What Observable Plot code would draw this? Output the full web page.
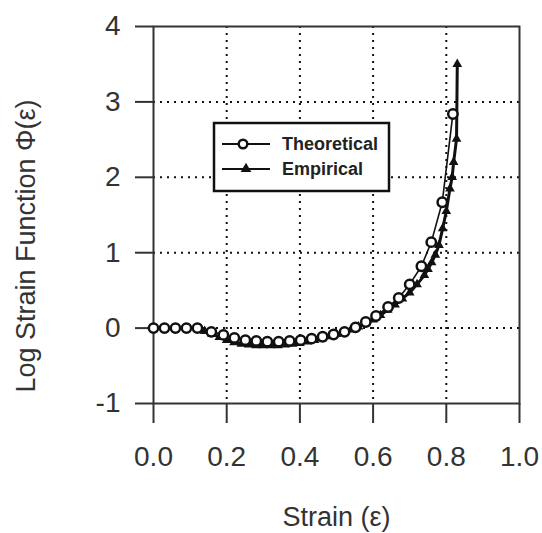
<!DOCTYPE html>
<html>
<head>
<meta charset="utf-8">
<script src="https://cdn.jsdelivr.net/npm/d3@7"></script>
<script src="https://cdn.jsdelivr.net/npm/@observablehq/plot@0.6"></script>
<style>
  html, body { margin: 0; padding: 0; background: white; }
  #chart { position: relative; width: 542px; height: 533px; }
</style>
</head>
<body>
<div id="chart"></div>
<script>
// Theoretical curve (open circles)
const theoX = [0, 0.03, 0.06, 0.09, 0.12, 0.158, 0.191, 0.221, 0.251, 0.281, 0.311, 0.342, 0.372, 0.402, 0.432, 0.462, 0.492, 0.522, 0.552, 0.58, 0.608, 0.641, 0.67, 0.70, 0.732, 0.759, 0.789, 0.818];
const theoY = [0, 0, 0, 0, 0, -0.05, -0.09, -0.13, -0.16, -0.17, -0.18, -0.18, -0.17, -0.16, -0.14, -0.115, -0.085, -0.05, 0.01, 0.08, 0.16, 0.28, 0.40, 0.58, 0.82, 1.14, 1.67, 2.84];

// Empirical curve (filled triangles)
const empX = [0, 0.03, 0.06, 0.09, 0.12, 0.14, 0.16, 0.18, 0.20, 0.22, 0.24, 0.26, 0.28, 0.30, 0.32, 0.34, 0.36, 0.38, 0.40, 0.42, 0.44, 0.46, 0.48, 0.50, 0.52, 0.54, 0.56, 0.58, 0.60, 0.62, 0.64, 0.66, 0.68, 0.70, 0.72, 0.74, 0.75, 0.76, 0.77, 0.78, 0.79, 0.80, 0.81, 0.816, 0.82, 0.828, 0.83];
const empY = [0, 0, 0, 0, -0.01, -0.04, -0.08, -0.12, -0.16, -0.19, -0.21, -0.22, -0.23, -0.23, -0.23, -0.23, -0.22, -0.21, -0.20, -0.18, -0.16, -0.14, -0.11, -0.08, -0.05, -0.02, 0.02, 0.06, 0.11, 0.17, 0.24, 0.31, 0.39, 0.47, 0.58, 0.70, 0.78, 0.87, 0.97, 1.1, 1.32, 1.55, 1.85, 2.0, 2.2, 2.51, 3.5];

const xTicks = [0, 0.2, 0.4, 0.6, 0.8, 1.0];
const yTicks = [-1, 0, 1, 2, 3, 4];
const xGrid = [0.2, 0.4, 0.6, 0.8];
const yGrid = [0, 1, 2, 3];
const xLabel = "Strain (ε)";
const yLabel = "Log Strain Function Φ(ε)";
const seriesNames = ["Theoretical", "Empirical"];

const theo = theoX.map((x, i) => ({x, y: theoY[i]}));
const emp = empX.map((x, i) => ({x, y: empY[i]}));

const textColor = "#333";
const font = "'Liberation Sans', Arial, sans-serif";

const plot = Plot.plot({
  width: 542,
  height: 533,
  marginLeft: 153,
  marginRight: 23,
  marginTop: 26,
  marginBottom: 130,
  style: {fontFamily: font, fontSize: "28px", color: textColor, background: "white"},
  x: {domain: [0, 1]},
  y: {domain: [-1, 4]},
  marks: [
    Plot.gridX(xGrid, {stroke: "#111", strokeOpacity: 1, strokeWidth: 2, strokeDasharray: "2,5"}),
    Plot.gridY(yGrid, {stroke: "#111", strokeOpacity: 1, strokeWidth: 2, strokeDasharray: "2,5"}),
    Plot.frame({stroke: "#333", strokeWidth: 2}),
    Plot.axisX({ticks: xTicks, tickFormat: d => d.toFixed(1), tickSize: 20, tickPadding: 23, stroke: "#333", strokeWidth: 2,
      label: null, fontSize: 28}),
    Plot.axisY({ticks: yTicks, tickFormat: d => String(d), tickSize: 18, tickPadding: 15, stroke: "#333", strokeWidth: 2,
      label: null, fontSize: 28}),
    Plot.text([xLabel], {frameAnchor: "bottom", lineAnchor: "top", dy: 103, fontSize: 27, fill: textColor}),
    Plot.text([yLabel], {frameAnchor: "left", rotate: -90, lineAnchor: "middle", textAnchor: "middle", dx: -127, dy: 31, fontSize: 27, fill: textColor}),
    Plot.line(emp, {x: "x", y: "y", stroke: "#111", strokeWidth: 3}),
    Plot.dot(emp, {x: "x", y: "y", symbol: "triangle", r: 3.6, fill: "#111", stroke: "none"}),
    Plot.line(theo, {x: "x", y: "y", stroke: "#111", strokeWidth: 1.6}),
    Plot.dot(theo, {x: "x", y: "y", symbol: "circle", r: 4.7, fill: "white", stroke: "#111", strokeWidth: 2.5})
  ]
});

document.getElementById("chart").appendChild(plot);

// Legend box drawn inside the SVG
const svg = d3.select(plot);
const lg = svg.append("g").attr("class", "legend");
lg.append("rect").attr("x", 214).attr("y", 123).attr("width", 175).attr("height", 68)
  .attr("fill", "white").attr("stroke", "#111").attr("stroke-width", 2.5);
const rows = [{name: seriesNames[0], y: 144, sym: "circle"}, {name: seriesNames[1], y: 169, sym: "triangle"}];
rows.forEach(r => {
  lg.append("line").attr("x1", 222).attr("x2", 270).attr("y1", r.y).attr("y2", r.y)
    .attr("stroke", "#111").attr("stroke-width", 2);
  if (r.sym === "circle") {
    lg.append("circle").attr("cx", 243).attr("cy", r.y).attr("r", 4.3)
      .attr("fill", "white").attr("stroke", "#111").attr("stroke-width", 2.5);
  } else {
    lg.append("path").attr("transform", `translate(246,${r.y})`)
      .attr("d", d3.symbol(d3.symbolTriangle, 50)()).attr("fill", "#111");
  }
  lg.append("text").attr("x", 282).attr("y", r.y + 6).text(r.name)
    .attr("text-anchor", "start")
    .attr("font-family", font).attr("font-size", 18)
    .attr("font-weight", "bold").attr("fill", "#222");
});
</script>
</body>
</html>
